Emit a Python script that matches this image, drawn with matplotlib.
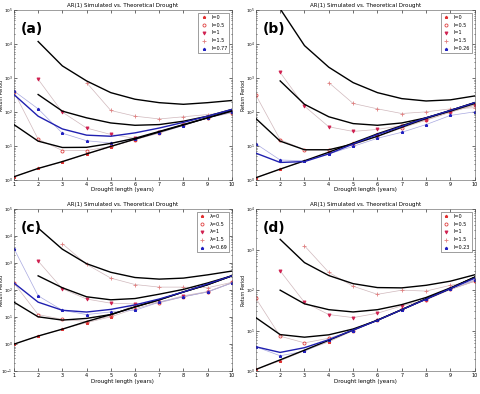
import numpy as np
import matplotlib
matplotlib.use("Agg")
import matplotlib.pyplot as plt

nan = np.nan
years = [1, 2, 3, 4, 5, 6, 7, 8, 9, 10]

# theoretical curves, rows: l=0, l=0.5, l=1, l=1.5, panel-specific l (blue)
theo_a = [[1.25, 2.2, 3.5, 5.9, 9.8, 16, 26, 42, 68, 112],
          [43, 14, 9.1, 9.2, 12, 17, 27, 43, 68, 107],
          [nan, 330, 107, 68, 48, 41, 43, 54, 76, 120],
          [nan, 12000, 2300, 830, 375, 240, 190, 170, 190, 220],
          [330, 76, 32, 21, 19.5, 24.5, 34, 50, 76, 120]]
sim_a = [[1.25, 2.2, 3.4, 5.8, 9.5, 15.5, 24, 41, 68, 102],
         [400, 16, 7.4, 7.4, 9.8, 15.5, 25, 41, 68, 95],
         [nan, 930, 100, 34, 22, 17, 26, 42, 68, 100],
         [nan, nan, nan, 740, 112, 76, 63, 73, 85, 102],
         [420, 125, 24, 14.4, 12.3, 16, 25, 40, 68, 100]]

theo_b = [[1.17, 2.1, 3.7, 6.6, 12.3, 23, 40, 68, 112, 190],
          [65, 14, 7.8, 7.8, 11.5, 19.5, 36, 65, 112, 190],
          [nan, 830, 170, 73, 46, 41, 48, 68, 107, 180],
          [nan, 110000, 9100, 2100, 740, 375, 250, 213, 230, 300],
          [6.2, 3.3, 3.5, 5.9, 11.5, 22, 38, 68, 112, 190]]
sim_b = [[1.17, 2.1, 3.6, 6.5, 12, 22, 40, 60, 105, 165],
         [320, 15.5, 7.8, 7.8, 11, 19, 34, 58, 100, 160],
         [nan, 1480, 150, 37, 27, 31, 40, 58, 100, 160],
         [nan, nan, nan, 740, 180, 125, 91, 102, 125, 135],
         [11.7, 3.9, 3.7, 5.9, 9.8, 17, 25.5, 43, 80, 102]]

theo_c = [[1.0, 2.0, 3.6, 6.9, 12.5, 24, 44, 86, 160, 340],
          [36, 10.3, 7.8, 9, 12.5, 24, 44, 86, 160, 340],
          [nan, 340, 123, 57, 44, 49, 71, 107, 185, 340],
          [nan, 20000, 3300, 960, 460, 295, 257, 280, 370, 510],
          [185, 36, 18, 15.5, 19.4, 28.5, 47, 86, 170, 340]]
sim_c = [[1.0, 2.0, 3.6, 6.3, 10.3, 20.6, 36, 58, 86, 185],
         [185, 12.5, 8.3, 6.9, 11.2, 29, 34, 57, 86, 195],
         [nan, 1200, 113, 47, 33, 31, 36, 62, 89, 185],
         [nan, nan, 5300, 910, 280, 162, 130, 130, 123, 195],
         [3500, 62, 18, 12.5, 15.6, 18, 36, 57, 86, 185]]

theo_d = [[1.1, 1.9, 3.3, 5.8, 10.4, 18.3, 33, 61, 110, 209],
          [21, 8, 6.9, 7.9, 11, 18, 33, 61, 110, 209],
          [nan, 100, 46, 33, 29, 33, 44, 66, 114, 209],
          [nan, 1800, 480, 230, 145, 116, 114, 132, 167, 240],
          [4, 2.9, 3.8, 6, 10.4, 18, 33, 60, 110, 198]]
sim_d = [[1.1, 1.8, 3.2, 5.3, 10, 18, 33, 60, 106, 167],
         [63, 7.3, 5.0, 6.5, 10, 18, 34, 58, 104, 167],
         [nan, 300, 50, 25, 21, 27, 41, 58, 104, 167],
         [nan, nan, 1250, 275, 125, 79, 100, 95, 132, 167],
         [4, 2.4, 3.1, 5.8, 10, 18, 33, 60, 106, 180]]

panel_names = ["(a)", "(b)", "(c)", "(d)"]
blue_l = ["0.77", "0.26", "0.69", "0.23"]
l_sym = ["l", "l", "λ", "l"]
ylims = [(1, 1e5), (1, 1e5), (0.1, 1e5), (1, 1e4)]
theos = [theo_a, theo_b, theo_c, theo_d]
sims = [sim_a, sim_b, sim_c, sim_d]

positions = [[0.029, 0.543, 0.454, 0.431],
             [0.533, 0.543, 0.456, 0.431],
             [0.029, 0.058, 0.454, 0.411],
             [0.533, 0.058, 0.456, 0.411]]

markers = ["*", "o", "v", "+", "*"]
mcolors = ["#e03030", "#e04040", "#d02050", "#e08080", "#2020c0"]
mfaces = ["#e03030", "none", "#d02050", "#e08080", "#2020c0"]
linecols = ["#d0b8bc", "#d0b8bc", "#d0b8bc", "#d0b8bc", "#a8a8e0"]

fig = plt.figure(figsize=(4.8, 3.94), dpi=100)

for k in range(4):
    ax = fig.add_axes(positions[k])
    ax.set_yscale("log")
    th = theos[k]
    sm = sims[k]
    handles = []
    for i in range(5):
        h, = ax.plot(years, sm[i], color=linecols[i], lw=0.5,
                     marker=markers[i], ms=2.2, mew=0.6,
                     mec=mcolors[i], mfc=mfaces[i], zorder=2)
        handles.append(h)
    for i in range(4):
        ax.plot(years, th[i], color="black", lw=1.0, zorder=3)
    ax.plot(years, th[4], color="#2020b0", lw=1.0, zorder=3)

    ax.set_xlim(1, 10)
    ax.set_ylim(*ylims[k])
    ax.set_xticks(years)
    ax.tick_params(which="both", direction="in", labelsize=3.5, length=2,
                   width=0.4, pad=1.2, top=True, right=True)
    ax.tick_params(axis="y", labelsize=3.1, pad=0.8)
    ax.tick_params(which="minor", length=1)
    for sp in ax.spines.values():
        sp.set_linewidth(0.4)
        sp.set_color("#555555")
    ax.set_title("AR(1) Simulated vs. Theoretical Drought", fontsize=4, pad=2)
    ax.set_xlabel("Drought length (years)", fontsize=4, labelpad=0.5)
    ax.set_ylabel("Return Period", fontsize=3.3)
    ax.yaxis.set_label_coords(-0.044, 0.5)
    ax.text(0.03, 0.93, panel_names[k], transform=ax.transAxes,
            fontsize=10, fontweight="bold", va="top")
    s = l_sym[k]
    labels = [s + "=0", s + "=0.5", s + "=1", s + "=1.5", s + "=" + blue_l[k]]
    leg = ax.legend(handles, labels, loc="upper right", fontsize=3.5,
                    handlelength=1.5, borderpad=0.4, labelspacing=0.6,
                    fancybox=False, framealpha=1, edgecolor="#555555")
    leg.get_frame().set_linewidth(0.4)
    for lh in leg.get_lines():
        lh.set_linestyle("none")

fig.savefig("out.png", dpi=100)
